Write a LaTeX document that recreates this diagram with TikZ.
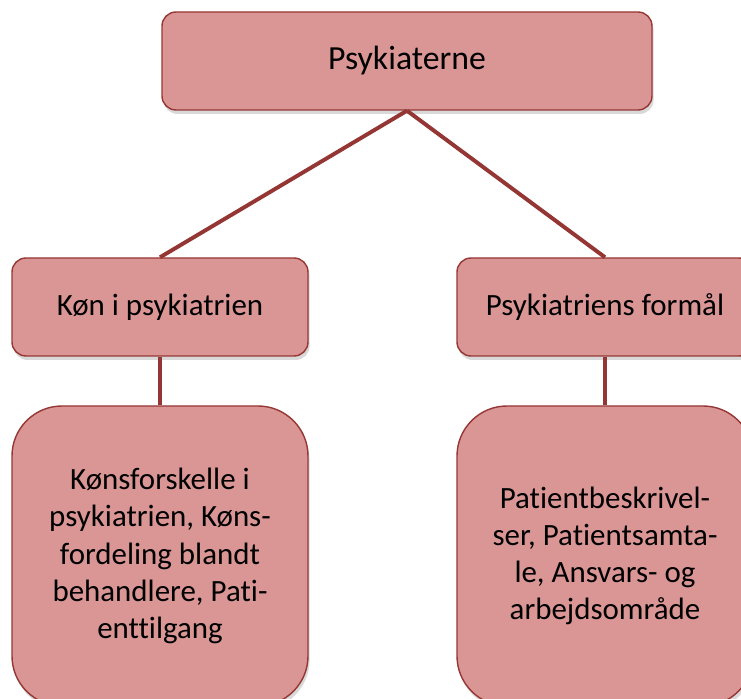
\documentclass[tikz,border=0pt]{standalone}
\usepackage{fontspec}
\setmainfont{Carlito}[Ligatures=NoCommon]
\usetikzlibrary{shadows}
\definecolor{boxfill}{RGB}{217,150,148}
\definecolor{boxborder}{RGB}{150,55,53}
\definecolor{linkred}{RGB}{148,54,52}

\begin{document}
\begin{tikzpicture}[
  every node/.style={font=\fontsize{22}{26.5}\selectfont, text=black},
  headbox/.style={draw=boxborder, fill=boxfill, line width=1pt,
    rounded corners=0.35cm, minimum height=2.45cm,
    drop shadow={opacity=0.3, shadow xshift=0.04cm, shadow yshift=-0.1cm}},
  textbox/.style={headbox, rounded corners=1.25cm, minimum height=7.5cm,
    align=center},
  link/.style={draw=linkred, line width=2.8pt},
]

%% Picture frame
\useasboundingbox (0,0) rectangle (18.525,-17.475);

%% Top box
\node[headbox, minimum width=12.25cm, font=\fontsize{24}{29}\selectfont]
  (psyk) at (10.175,-1.525) {Psykiaterne};

%% Middle row
\node[headbox, minimum width=7.4cm] (kon) at (4.0,-7.675) {Køn i psykiatrien};
\node[headbox, minimum width=7.4cm] (formal) at (15.125,-7.675) {Psykiatriens formål};

%% Bottom row
\node[textbox, minimum width=7.4cm] (kondet) at (4.0,-13.9)
  {Kønsforskelle i\\psykiatrien, Køns-\\fordeling blandt\\behandlere, Pati-\\enttilgang};
\node[textbox, minimum width=7.4cm] (formdet) at (15.125,-13.9)
  {Patientbeskrivel-\\ser, Patientsamta-\\le, Ansvars- og\\arbejdsområde};

%% ---- Connectors ----
\draw[link] (psyk.south) -- (kon.north);
\draw[link] (psyk.south) -- (formal.north);
\draw[link] (kon.south) -- (kondet.north);
\draw[link] (formal.south) -- (formdet.north);

\end{tikzpicture}
\end{document}
